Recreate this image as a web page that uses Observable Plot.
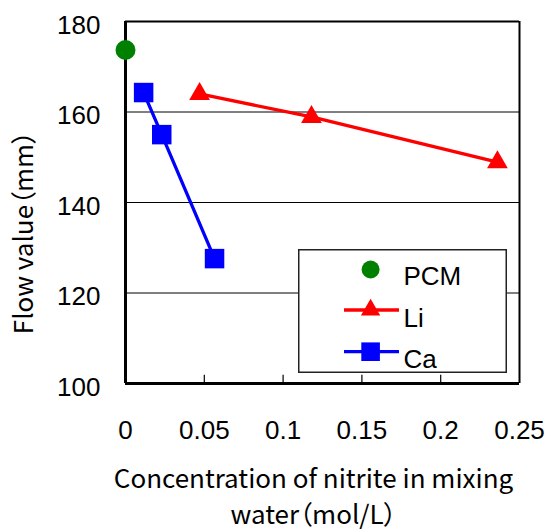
<!DOCTYPE html>
<html>
<head>
<meta charset="utf-8">
<script src="https://cdn.jsdelivr.net/npm/d3@7"></script>
<script src="https://cdn.jsdelivr.net/npm/@observablehq/plot@0.6"></script>
<style>
  html, body { margin: 0; padding: 0; background: #fff; }
  #wrap { position: relative; width: 545px; height: 529px; }
  #legend { position: absolute; }
  g[font-family*="Noto"] text, g[font-family*="Noto"] { font-feature-settings: "palt"; }
</style>
</head>
<body>
<div id="wrap"></div>
<script>
// ---- data ----
const pcmX = [0];
const pcmY = [173.7];
const liX = [0.047, 0.118, 0.236];
const liY = [164, 158.9, 148.9];
const caX = [0.0115, 0.023, 0.0565];
const caY = [164.3, 155, 127.6];
const xTicks = [0, 0.05, 0.1, 0.15, 0.2, 0.25];
const xTickLabels = ["0", "0.05", "0.1", "0.15", "0.2", "0.25"];
const yTicks = [100, 120, 140, 160, 180];
const gridY = [120, 140, 160];
const innerTicksX = [0.05, 0.1, 0.15, 0.2];
const seriesNames = ["PCM", "Li", "Ca"];
const seriesColors = ["#008000", "#ff0000", "#0000ff"];
const xTitle = "Concentration of nitrite in mixing\nwater（mol/L）";
const yTitle = "Flow value（mm）";

const pcm = pcmX.map((x, i) => ({x, y: pcmY[i]}));
const li = liX.map((x, i) => ({x, y: liY[i]}));
const ca = caX.map((x, i) => ({x, y: caY[i]}));

const numFont = "'Liberation Sans', Arial, sans-serif";
const cjkFont = "'Noto Sans CJK JP', sans-serif";

const chart = Plot.plot({
  width: 545,
  height: 529,
  marginLeft: 125,
  marginRight: 26,
  marginTop: 21,
  marginBottom: 146,
  style: {fontFamily: numFont, fontSize: "26px", background: "#fff", color: "#000", overflow: "visible"},
  x: {domain: [0, 0.25], label: null},
  y: {domain: [100, 180], label: null},
  marks: [
    Plot.ruleY(gridY, {stroke: "#000", strokeWidth: 1}),
    Plot.ruleX(innerTicksX, {y1: 100, y2: 101.8, stroke: "#000", strokeWidth: 1.2}),
    Plot.ruleY([180], {stroke: "#000", strokeWidth: 2}),
    Plot.ruleX([0.25], {stroke: "#000", strokeWidth: 2}),
    Plot.ruleX([0], {stroke: "#000", strokeWidth: 3}),
    Plot.ruleY([100], {stroke: "#000", strokeWidth: 3}),
    Plot.axisY({ticks: yTicks, tickSize: 0, tickPadding: 25, dy: 4, label: null, fontSize: 26}),
    Plot.axisX({ticks: xTicks, tickFormat: d => xTickLabels[xTicks.indexOf(d)], tickSize: 0, tickPadding: 37, label: null, fontSize: 26}),
    Plot.line(li, {x: "x", y: "y", stroke: seriesColors[1], strokeWidth: 3.3}),
    Plot.line(ca, {x: "x", y: "y", stroke: seriesColors[2], strokeWidth: 3.3}),
    Plot.dot(li, {x: "x", y: "y", symbol: "triangle", r: 7.7, fill: seriesColors[1]}),
    Plot.dot(ca, {x: "x", y: "y", symbol: "square", r: 11, fill: seriesColors[2]}),
    Plot.dot(pcm, {x: "x", y: "y", symbol: "circle", r: 10, fill: seriesColors[0]}),
    Plot.text([xTitle], {frameAnchor: "bottom", textAnchor: "middle", lineAnchor: "bottom", dx: -9, dy: 140, lineHeight: 1.37, fontSize: 26, fontFamily: cjkFont, fill: "#000"}),
    Plot.text([yTitle], {frameAnchor: "left", textAnchor: "middle", lineAnchor: "middle", rotate: -90, dx: -101, dy: 30, fontSize: 26, fontFamily: cjkFont, fill: "#000"})
  ]
});

const wrap = document.getElementById("wrap");
wrap.appendChild(chart);

// ---- legend (overlay) ----
const lgW = 209, lgH = 124;
const lg = d3.select(wrap).append("svg")
  .attr("id", "legend")
  .attr("width", lgW).attr("height", lgH)
  .style("left", "298px").style("top", "249px");
lg.append("rect").attr("x", 0.75).attr("y", 0.75).attr("width", lgW - 1.5).attr("height", lgH - 1.5)
  .attr("fill", "#fff").attr("stroke", "#222").attr("stroke-width", 1.5);
const rows = [
  {name: seriesNames[0], color: seriesColors[0], sym: d3.symbolCircle, size: Math.PI * 9 * 9, line: false, cy: 20.5, ty: 36},
  {name: seriesNames[1], color: seriesColors[1], sym: d3.symbolTriangle, size: Math.PI * 7.2 * 7.2, line: true, cy: 61, ty: 78},
  {name: seriesNames[2], color: seriesColors[2], sym: d3.symbolSquare, size: Math.PI * 10.5 * 10.5, line: true, cy: 102.7, ty: 119}
];
for (const r of rows) {
  if (r.line) {
    lg.append("line").attr("x1", 46).attr("x2", 101).attr("y1", r.cy).attr("y2", r.cy)
      .attr("stroke", r.color).attr("stroke-width", 3.3);
  }
  lg.append("path").attr("d", d3.symbol(r.sym, r.size)()).attr("transform", `translate(72.6,${r.cy})`).attr("fill", r.color);
  lg.append("text").attr("x", 105.5).attr("y", r.ty).text(r.name)
    .attr("font-family", numFont).attr("font-size", 26).attr("fill", "#000");
}
</script>
</body>
</html>
